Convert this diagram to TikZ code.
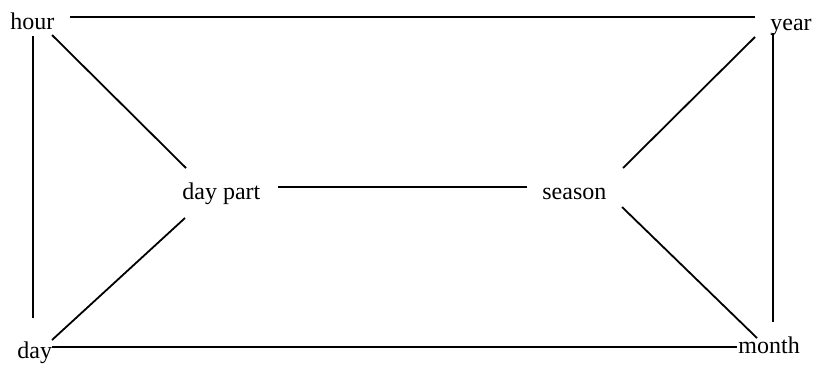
\documentclass[tikz,border=0pt]{standalone}
\usepackage{fontspec}
\setmainfont{Liberation Serif}
\tikzset{
    lbl/.style={anchor=base west, inner sep=0pt, font=\fontsize{12}{14}\selectfont},
    link/.style={line width=0.9pt}
}
\begin{document}
\begin{tikzpicture}[x=0.5pt, y=-0.5pt]
\useasboundingbox (0,0) rectangle (813,365);

% Time units
\node[lbl] (hour)    at (10,29)   {hour};
\node[lbl] (year)    at (770,30)  {year};
\node[lbl] (daypart) at (182,199) {day part};
\node[lbl] (season)  at (542,199) {season};
\node[lbl] (day)     at (17,358)  {day};
\node[lbl] (month)   at (738,353) {month};

% Outer frame
\draw[link] ([shift={(60,-12)}]hour.base west) -- ([shift={(-15,-13)}]year.base west);
\draw[link] ([shift={(23,7)}]hour.base west) -- ([shift={(16,-40)}]day.base west);
\draw[link] ([shift={(3,3)}]year.base west) -- ([shift={(35,-31)}]month.base west);
\draw[link] ([shift={(35,-11)}]day.base west) -- ([shift={(-1,-6)}]month.base west);

% Inner links
\draw[link] ([shift={(42,6)}]hour.base west) -- ([shift={(4,-31)}]daypart.base west);
\draw[link] ([shift={(3,19)}]daypart.base west) -- ([shift={(35,-18)}]day.base west);
\draw[link] ([shift={(96,-12)}]daypart.base west) -- ([shift={(-15,-12)}]season.base west);
\draw[link] ([shift={(-15,7)}]year.base west) -- ([shift={(81,-31)}]season.base west);
\draw[link] ([shift={(80,8)}]season.base west) -- ([shift={(19,-15)}]month.base west);

\end{tikzpicture}
\end{document}
